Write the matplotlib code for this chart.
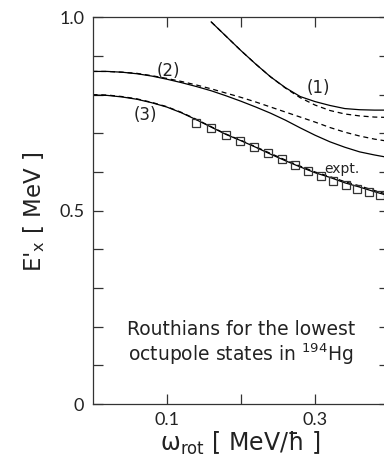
import matplotlib
matplotlib.use("Agg")
import matplotlib.pyplot as plt

plt.rcParams['font.family'] = ['DejaVu Sans']
plt.rcParams['mathtext.default'] = 'regular'

# ---- data ----
omega = [0.00, 0.02, 0.04, 0.06, 0.08, 0.10, 0.12, 0.14, 0.16, 0.18, 0.20,
         0.22, 0.24, 0.26, 0.28, 0.30, 0.32, 0.34, 0.36, 0.38, 0.40]

c2_solid = [0.860, 0.860, 0.858, 0.854, 0.848, 0.840, 0.831, 0.821, 0.810, 0.797, 0.783,
            0.768, 0.752, 0.734, 0.714, 0.695, 0.678, 0.664, 0.652, 0.644, 0.637]
c2_dash = [0.860, 0.860, 0.858, 0.855, 0.849, 0.842, 0.834, 0.825, 0.815, 0.804, 0.793,
           0.781, 0.768, 0.755, 0.742, 0.729, 0.715, 0.703, 0.693, 0.685, 0.679]
c3_solid = [0.799, 0.798, 0.794, 0.788, 0.779, 0.768, 0.753, 0.735, 0.716, 0.697, 0.681,
            0.664, 0.646, 0.629, 0.613, 0.598, 0.586, 0.572, 0.561, 0.549, 0.538]
c3_dash = [0.800, 0.799, 0.795, 0.789, 0.780, 0.769, 0.754, 0.736, 0.717, 0.698, 0.682,
           0.665, 0.648, 0.631, 0.615, 0.600, 0.588, 0.575, 0.564, 0.552, 0.541]

omega1 = [0.16, 0.18, 0.20, 0.22, 0.24, 0.26, 0.28, 0.30, 0.32, 0.34, 0.36, 0.38, 0.40]
c1_solid = [0.988, 0.951, 0.914, 0.879, 0.846, 0.818, 0.795, 0.782, 0.772, 0.764, 0.761, 0.760, 0.760]
c1_dash = [0.988, 0.951, 0.914, 0.879, 0.846, 0.817, 0.792, 0.773, 0.759, 0.750, 0.745, 0.742, 0.741]

expt_omega = [0.1395, 0.1593, 0.1795, 0.1988, 0.2181, 0.237, 0.255, 0.273, 0.291,
              0.308, 0.3245, 0.341, 0.357, 0.373, 0.3875]
expt_E = [0.7275, 0.713, 0.6965, 0.681, 0.6655, 0.648, 0.6335, 0.617, 0.6025,
          0.5896, 0.5767, 0.5663, 0.5568, 0.5482, 0.5405]

xticks = [0.1, 0.2, 0.3]
xticklabels = ['0.1', '', '0.3']
yticks = [0, 0.1, 0.2, 0.3, 0.4, 0.5, 0.6, 0.7, 0.8, 0.9, 1.0]
yticklabels = ['0', '', '', '', '', '0.5', '', '', '', '', '1.0']

# ---- figure ----
fig = plt.figure(figsize=(3.84, 4.61), dpi=100)
ax = fig.add_axes([92.5 / 384, 57 / 461, 296.8 / 384, 386.7 / 461])

lw = 0.9
dash = (0, (4, 3))
ax.plot(omega1, c1_solid, color='black', lw=lw)
ax.plot(omega1, c1_dash, color='black', lw=lw, ls=dash)
ax.plot(omega, c2_solid, color='black', lw=lw)
ax.plot(omega, c2_dash, color='black', lw=lw, ls=dash)
ax.plot(omega, c3_solid, color='black', lw=lw)
ax.plot(omega, c3_dash, color='black', lw=lw, ls=dash)
ax.plot(expt_omega, expt_E, ls='none', marker='s', ms=5.5, mfc='none',
        mec='#333333', mew=0.9)

ax.set_xlim(0, 0.4)
ax.set_ylim(0, 1.0)
ax.set_xticks(xticks)
ax.set_xticklabels(xticklabels)
ax.set_yticks(yticks)
ax.set_yticklabels(yticklabels)
ax.tick_params(direction='in', length=7, width=0.9, top=True, right=True,
               labelsize=13, pad=6, color='#333333', labelcolor='#222222')
for lbl in ax.get_xticklabels() + ax.get_yticklabels():
    lbl.set_fontfamily(['Lato', 'DejaVu Sans'])
for s in ax.spines.values():
    s.set_linewidth(0.9)
    s.set_color('#333333')

ax.text(0.304, 0.817, '(1)', fontsize=12, ha='center', va='center', color='#222222')
ax.text(0.102, 0.861, '(2)', fontsize=12, ha='center', va='center', color='#222222')
ax.text(0.071, 0.747, '(3)', fontsize=12, ha='center', va='center', color='#222222')
ax.text(0.336, 0.607, 'expt.', fontsize=10, ha='center', va='center', color='#222222')

ax.text(0.2, 0.178, 'Routhians for the lowest', fontsize=13.5, ha='center',
        va='baseline', color='#222222')
ax.text(0.2, 0.111, 'octupole states in $^{194}$Hg', fontsize=13.5, ha='center',
        va='baseline', color='#222222')

ax.set_xlabel(r'$\omega_{\rm rot}$ [ MeV/ħ ]', fontsize=17, va='baseline', color='#222222')
ax.xaxis.set_label_coords(0.497, -0.122)
ax.set_ylabel("E$'_{\\rm x}$ [ MeV ]", fontsize=16.5, va='baseline', color='#222222')
ax.yaxis.set_label_coords(-0.1745, 0.497)

fig.savefig('out.png', dpi=100)
